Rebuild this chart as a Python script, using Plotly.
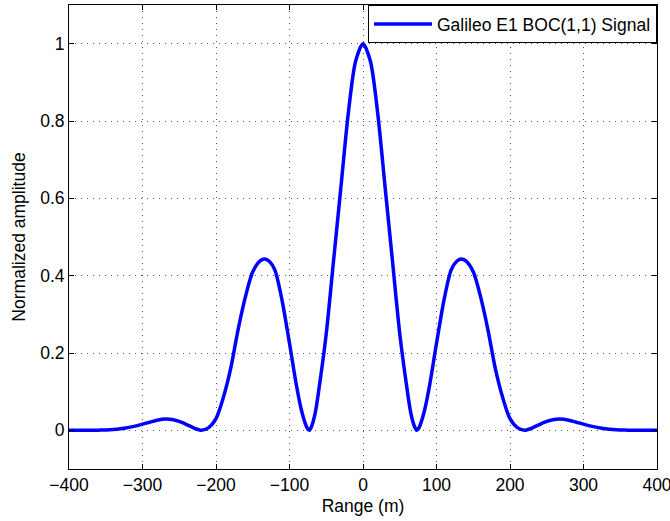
import plotly.graph_objects as go

# Range offsets (m) and normalized amplitude
range_m = [-400, -390, -380, -370, -360, -350, -340, -330, -320, -310, -300,
           -290, -280, -268, -260, -250, -240, -230, -220, -210, -200,
           -190, -180, -170, -160, -150, -140, -134, -128, -120, -110, -100,
           -90, -83, -76, -73, -70, -65, -60, -50, -40, -30, -20, -10, 0,
           10, 20, 30, 40, 50, 60, 65, 70, 73, 76, 83, 90,
           100, 110, 120, 128, 134, 140, 150, 160, 170, 180, 190,
           200, 210, 220, 230, 240, 250, 260, 268, 280, 290, 300,
           310, 320, 330, 340, 350, 360, 370, 380, 390, 400]
amplitude = [0.0, 0.0, 0.0, 0.0, 0.0005, 0.001, 0.002, 0.004, 0.007, 0.011, 0.016,
             0.021, 0.026, 0.029, 0.028, 0.023, 0.015, 0.006, 0.0, 0.007, 0.03,
             0.085, 0.16, 0.26, 0.345, 0.41, 0.438, 0.443, 0.438, 0.415, 0.335, 0.225,
             0.11, 0.046, 0.006, 0.0, 0.01, 0.045, 0.106, 0.25, 0.44, 0.63, 0.82, 0.955, 1.0,
             0.955, 0.82, 0.63, 0.44, 0.25, 0.106, 0.045, 0.01, 0.0, 0.006, 0.046, 0.11,
             0.225, 0.335, 0.415, 0.438, 0.443, 0.438, 0.41, 0.345, 0.26, 0.16, 0.085,
             0.03, 0.007, 0.0, 0.006, 0.015, 0.023, 0.028, 0.029, 0.026, 0.021, 0.016,
             0.011, 0.007, 0.004, 0.002, 0.001, 0.0005, 0.0, 0.0, 0.0, 0.0]

x_ticks = [-400, -300, -200, -100, 0, 100, 200, 300, 400]
y_ticks = [0, 0.2, 0.4, 0.6, 0.8, 1]
y_tick_labels = ["0", "0.2", "0.4", "0.6", "0.8", "1"]

font_family = "Liberation Sans, Arial, Helvetica, sans-serif"
fsize = 17.5

fig = go.Figure()
fig.add_trace(go.Scatter(
    x=range_m, y=amplitude, mode="lines",
    line=dict(color="#0000FF", width=3.5, shape="spline", smoothing=0.8),
    name="Galileo E1 BOC(1,1) Signal",
))

axis_common = dict(
    showline=True, linecolor="black", linewidth=1, mirror="ticks",
    ticks="inside", ticklen=5, tickcolor="black", tickwidth=1,
    showgrid=True, gridcolor="#555555", griddash="1px,5px", gridwidth=1,
    zeroline=False, automargin=False, ticklabeloverflow="allow",
    tickfont=dict(family=font_family, size=fsize, color="black"),
)

fig.update_layout(
    width=670, height=521,
    margin=dict(l=69, r=13, t=5, b=52),
    paper_bgcolor="white", plot_bgcolor="white",
    font=dict(family=font_family, size=fsize, color="black"),
    showlegend=True,
    legend=dict(
        x=1, y=1, xanchor="right", yanchor="top",
        bgcolor="white", bordercolor="black", borderwidth=1,
        font=dict(family=font_family, size=fsize, color="black"),
        itemwidth=58,
    ),
    xaxis=dict(
        range=[-400, 400], tickvals=x_ticks,
        title=dict(text="Range (m)", font=dict(family=font_family, size=fsize), standoff=5),
        **axis_common,
    ),
    yaxis=dict(
        range=[-0.1, 1.1], tickvals=y_ticks, ticktext=y_tick_labels,
        title=dict(text="Normalized amplitude", font=dict(family=font_family, size=fsize), standoff=10),
        **axis_common,
    ),
)

fig.write_html("out.html", config={"displayModeBar": False},
               post_script="document.body.style.margin='0';")
